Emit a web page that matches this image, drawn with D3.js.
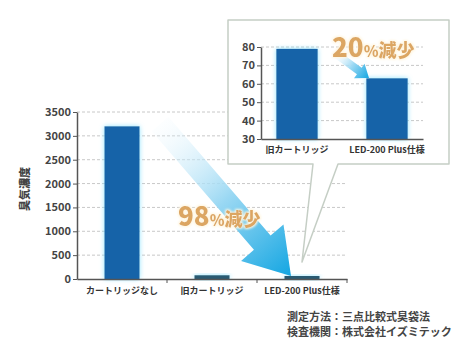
<!DOCTYPE html>
<html><head><meta charset="utf-8">
<script src="https://cdn.jsdelivr.net/npm/d3@7"></script>
<style>
body{margin:0;background:#fff;}
text{font-family:"Noto Sans CJK JP","Noto Sans",sans-serif;}
</style></head>
<body>
<svg id="c" width="475" height="356"></svg>
<script>
const categories = ["カートリッジなし","旧カートリッジ","LED-200 Plus仕様"];
const values = [3200, 79, 63];
const yTicks = [0,500,1000,1500,2000,2500,3000,3500];
const insetCategories = ["旧カートリッジ","LED-200 Plus仕様"];
const insetValues = [79, 63];
const insetTicks = [30,40,50,60,70,80];
const yLabel = "臭気濃度";
const notes = ["測定方法：三点比較式臭袋法","検査機関：株式会社イズミテック"];

const svg = d3.select("#c");
const defs = svg.append("defs");
const glow = defs.append("filter").attr("id","glow").attr("x","-50%").attr("y","-50%").attr("width","200%").attr("height","200%");
glow.append("feGaussianBlur").attr("in","SourceAlpha").attr("stdDeviation",2.5).attr("result","b");
glow.append("feFlood").attr("flood-color","#7fe0ff").attr("flood-opacity",0.9);
glow.append("feComposite").attr("in2","b").attr("operator","in").attr("result","g");
const gm = glow.append("feMerge"); gm.append("feMergeNode").attr("in","g"); gm.append("feMergeNode").attr("in","SourceGraphic");

const tglow = defs.append("filter").attr("id","tglow").attr("x","-20%").attr("y","-30%").attr("width","140%").attr("height","160%");
tglow.append("feMorphology").attr("in","SourceAlpha").attr("operator","dilate").attr("radius",1.2).attr("result","d");
tglow.append("feGaussianBlur").attr("in","d").attr("stdDeviation",1.2).attr("result","b");
tglow.append("feFlood").attr("flood-color","#fff6e0");
tglow.append("feComposite").attr("in2","b").attr("operator","in").attr("result","g");
const tm = tglow.append("feMerge"); tm.append("feMergeNode").attr("in","g"); tm.append("feMergeNode").attr("in","SourceGraphic");

const ag = defs.append("linearGradient").attr("id","ag").attr("x1","0").attr("y1","0").attr("x2","1").attr("y2","0");
ag.append("stop").attr("offset","0").attr("stop-color","#e8f6fd").attr("stop-opacity",0.1);
ag.append("stop").attr("offset","0.5").attr("stop-color","#9ad8f3");
ag.append("stop").attr("offset","1").attr("stop-color","#14a6e2");

// main chart
const x0 = 77, x1 = 347, yb = 279, yt = 112;
const x = d3.scaleBand().domain(categories).range([x0,x1]).paddingInner(0.61).paddingOuter(0.305);
const y = d3.scaleLinear().domain([0,3500]).range([yb,yt]);
const main = svg.append("g");
main.selectAll("line.grid").data(yTicks.slice(1)).join("line")
  .attr("x1",x0).attr("x2",x1).attr("y1",d=>y(d)).attr("y2",d=>y(d))
  .attr("stroke","#c8c8c8").attr("stroke-dasharray","3,2").attr("stroke-width",1);

// big arrow
(function(){
  const sx=160, sy=124, ex=291, ey=276;
  const len = Math.hypot(ex-sx,ey-sy), ang = Math.atan2(ey-sy,ex-sx)*180/Math.PI;
  const g = svg.append("g").attr("transform",`translate(${sx},${sy}) rotate(${ang})`);
  const hw=11, hh=28, hl=44;
  g.append("path").attr("d",`M0,${-hw} L${len-hl},${-hw} L${len-hl},${-hh} L${len},0 L${len-hl},${hh} L${len-hl},${hw} L0,${hw} Z`)
    .attr("fill","url(#ag)");
})();

main.selectAll("rect.bar").data(values).join("rect")
  .attr("x",(d,i)=>x(categories[i])).attr("width",x.bandwidth())
  .attr("y",d=>y(d)).attr("height",d=>yb-y(d))
  .attr("fill",(d,i)=>i===0?"#1364a8":"#2a5a72").attr("filter","url(#glow)");

const yAxis = main.append("g").attr("transform",`translate(${x0},0)`)
  .call(d3.axisLeft(y).tickValues(yTicks).tickFormat(d3.format("d")).tickSize(4).tickSizeOuter(0));
const xAxis = main.append("g").attr("transform",`translate(0,${yb})`)
  .call(d3.axisBottom(x).tickSize(0).tickSizeOuter(0));
[yAxis,xAxis].forEach(a=>{a.select(".domain").attr("stroke","#555").attr("stroke-width",1.5);a.selectAll(".tick line").attr("stroke","#555");});
yAxis.selectAll("text").attr("font-size",11).attr("fill","#444").attr("font-weight",700).attr("x",-6);
xAxis.selectAll("text").attr("font-size",9).attr("fill","#333").attr("font-weight",700).attr("dy","1.3em");
// category dividers
main.selectAll("line.div").data(categories).join("line")
  .attr("x1",d=>x(d)+x.bandwidth()+x.step()*0.305).attr("x2",d=>x(d)+x.bandwidth()+x.step()*0.305)
  .attr("y1",yb).attr("y2",yb+4).attr("stroke","#555");

svg.append("text").attr("transform","translate(24,189) rotate(-90)").attr("text-anchor","middle")
  .attr("dominant-baseline","central").attr("font-size",11).attr("font-weight",900).attr("fill","#444").text(yLabel);

function pct(gx,gy,num){
  const t = svg.append("text").attr("x",gx).attr("y",gy).attr("fill","#dca662").attr("font-weight",900)
    .attr("filter","url(#tglow)");
  t.append("tspan").attr("font-size",26).text(num);
  t.append("tspan").attr("font-size",15).text("%");
  t.append("tspan").attr("font-size",18).text("減少");
}
pct(178,226,"98");

// inset
const bx=228, by=20, bw=221, bh=144;
const tipX=302, tipY=262, pl=313, pr=338;
svg.append("path").attr("d",`M${bx},${by} H${bx+bw} V${by+bh} H${pr} L${tipX},${tipY} L${pl},${by+bh} H${bx} Z`)
  .attr("fill","#fff").attr("stroke","#c5cec5").attr("stroke-width",1.5).attr("stroke-linejoin","round");

const ix0=261, ix1=423, iyb=139, iyt=47;
const xi = d3.scaleBand().domain(insetCategories).range([ix0,ix1]).paddingInner(0.54).paddingOuter(0.17);
const yi = d3.scaleLinear().domain([30,80]).range([iyb,iyt]);
const inset = svg.append("g");
inset.selectAll("line").data(insetTicks.slice(1)).join("line")
  .attr("x1",ix0).attr("x2",ix1).attr("y1",d=>yi(d)).attr("y2",d=>yi(d))
  .attr("stroke","#c8c8c8").attr("stroke-dasharray","3,2");
(function(){
  const sx=336, sy=54, ex=369, ey=78;
  const len = Math.hypot(ex-sx,ey-sy), ang = Math.atan2(ey-sy,ex-sx)*180/Math.PI;
  const g = svg.append("g").attr("transform",`translate(${sx},${sy}) rotate(${ang})`);
  const hw=4, hh=9, hl=12;
  g.append("path").attr("d",`M0,${-hw} L${len-hl},${-hw} L${len-hl},${-hh} L${len},0 L${len-hl},${hh} L${len-hl},${hw} L0,${hw} Z`)
    .attr("fill","url(#ag)");
})();
inset.selectAll("rect").data(insetValues).join("rect")
  .attr("x",(d,i)=>xi(insetCategories[i])).attr("width",xi.bandwidth())
  .attr("y",d=>yi(d)).attr("height",d=>iyb-yi(d))
  .attr("fill","#1364a8").attr("filter","url(#glow)");
const iyA = inset.append("g").attr("transform",`translate(${ix0},0)`)
  .call(d3.axisLeft(yi).tickValues(insetTicks).tickSize(4).tickSizeOuter(0));
const ixA = inset.append("g").attr("transform",`translate(0,${iyb})`)
  .call(d3.axisBottom(xi).tickSize(0).tickSizeOuter(0));
[iyA,ixA].forEach(a=>{a.select(".domain").attr("stroke","#555").attr("stroke-width",1.5);a.selectAll(".tick line").attr("stroke","#555");});
iyA.selectAll("text").attr("font-size",11).attr("fill","#444").attr("font-weight",700).attr("x",-6);
ixA.selectAll("text").attr("font-size",9).attr("fill","#333").attr("font-weight",700).attr("dy","1.2em");
pct(332,57,"20");

svg.selectAll("text.note").data(notes).join("text").attr("class","note")
  .attr("x",287).attr("y",(d,i)=>321+i*15).attr("font-size",11).attr("font-weight",700).attr("fill","#444").text(d=>d);
</script>
</body></html>
